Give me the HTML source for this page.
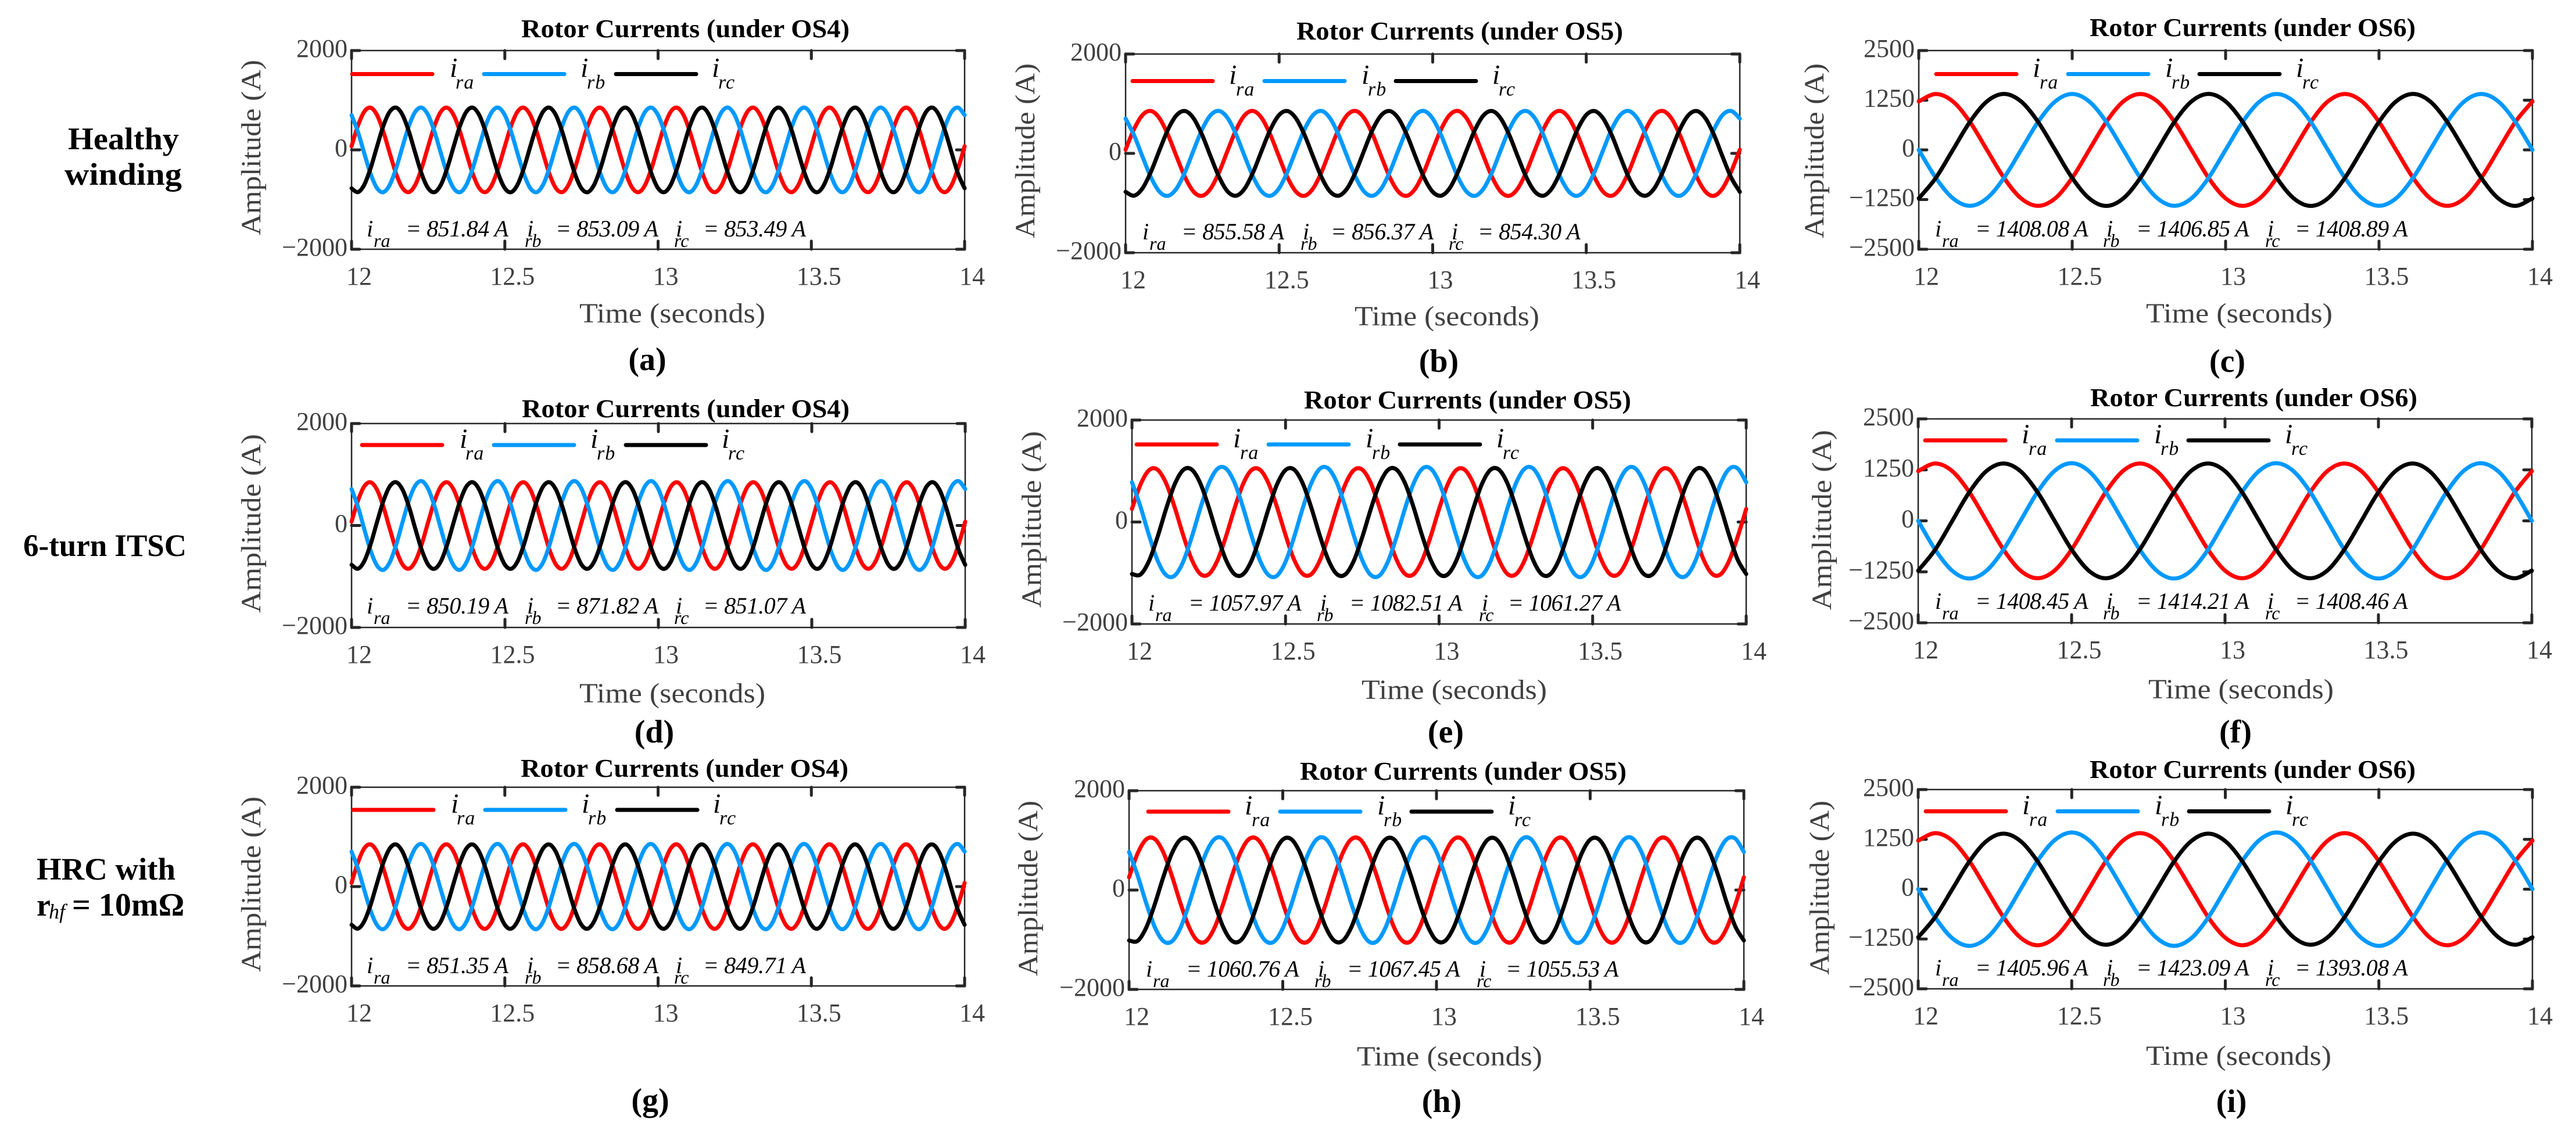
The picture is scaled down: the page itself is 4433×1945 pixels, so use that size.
<!DOCTYPE html>
<html lang="en">
<head>
<meta charset="utf-8">
<title>Rotor Currents under OS4, OS5 and OS6</title>
<style>
html,body{margin:0;padding:0;background:#fff;}
svg{display:block;}
text{font-family:"Liberation Serif",serif;white-space:pre;}
.title{font-size:44px;font-weight:bold;fill:#000;}
.xlab{font-size:48px;fill:#404040;}
.ylab{font-size:48px;fill:#404040;}
.cap{font-size:56px;font-weight:bold;fill:#000;text-anchor:middle;}
.row{font-size:54px;font-weight:bold;fill:#000;}
.tick{font-size:44px;fill:#404040;}
.frame{fill:none;stroke:#262626;stroke-width:2.5;}
.tm{stroke:#262626;stroke-width:5;stroke-linecap:round;}
.lk{stroke-width:7;stroke-linecap:round;}
.curve{fill:none;stroke-width:7;stroke-linecap:round;stroke-linejoin:round;}
.li{font-size:48px;font-style:italic;fill:#000;}
.ls{font-size:34px;font-style:italic;letter-spacing:1px;}
.an{font-size:40px;font-style:italic;fill:#000;}
.as{font-size:32px;}
.eqn{font-size:40px;letter-spacing:-0.4px;}
.eqw{font-size:40px;letter-spacing:-0.6px;}
</style>
</head>
<body>
<svg xmlns="http://www.w3.org/2000/svg" width="4433" height="1945" viewBox="0 0 4433 1945">
<rect width="4433" height="1945" fill="#fff"/>

<text class="row" x="117" y="257" textLength="191" lengthAdjust="spacingAndGlyphs">Healthy</text>
<text class="row" x="111" y="318" textLength="202" lengthAdjust="spacingAndGlyphs">winding</text>
<text class="row" x="40" y="957" textLength="281" lengthAdjust="spacingAndGlyphs">6-turn ITSC</text>
<text class="row" x="63" y="1514" textLength="239" lengthAdjust="spacingAndGlyphs">HRC with</text>
<text class="row" x="63" y="1576">r<tspan x="84" y="1581" font-size="36" font-style="italic" font-weight="normal">hf</tspan><tspan x="124" y="1576" font-size="56">= 10mΩ</tspan></text>

<g>
<g id="plot-a"></g>
<text class="title" x="897" y="64" textLength="565" lengthAdjust="spacingAndGlyphs">Rotor Currents (under OS4)</text>
<text class="xlab" x="997" y="555" textLength="320" lengthAdjust="spacingAndGlyphs">Time (seconds)</text>
<text class="ylab" transform="translate(448,405) rotate(-90)" textLength="302" lengthAdjust="spacingAndGlyphs">Amplitude (A)</text>
<text class="cap" x="1114" y="637">(a)</text>
<g transform="translate(606,127.5)">
<line class="lk" x1="0" x2="138" stroke="#ff0000"/>
<line class="lk" x1="227" x2="365" stroke="#0099ff"/>
<line class="lk" x1="454" x2="592" stroke="#000"/>
<text class="li" x="168" y="5">i<tspan class="ls" x="178" y="25">ra</tspan></text>
<text class="li" x="393" y="5">i<tspan class="ls" x="404" y="25">rb</tspan></text>
<text class="li" x="619" y="5">i<tspan class="ls" x="630" y="25">rc</tspan></text>
</g>
<g transform="translate(637,407)">
<text class="an" x="-6">i<tspan class="as" x="6" y="18">ra</tspan><tspan class="eqn" x="61" y="0">= 851.84 A</tspan></text>
<text class="an" x="270">i<tspan class="as" x="266" y="18">rb</tspan><tspan class="eqn" x="319" y="0">= 853.09 A</tspan></text>
<text class="an" x="526">i<tspan class="as" x="523" y="18">rc</tspan><tspan class="eqn" x="573" y="0">= 853.49 A</tspan></text>
</g>
</g>

<g>
<g id="plot-b"></g>
<text class="title" x="2231" y="68" textLength="562" lengthAdjust="spacingAndGlyphs">Rotor Currents (under OS5)</text>
<text class="xlab" x="2331" y="560" textLength="318" lengthAdjust="spacingAndGlyphs">Time (seconds)</text>
<text class="ylab" transform="translate(1780,410) rotate(-90)" textLength="301" lengthAdjust="spacingAndGlyphs">Amplitude (A)</text>
<text class="cap" x="2476" y="640">(b)</text>
<g transform="translate(1949,139.5)">
<line class="lk" x1="0" x2="138" stroke="#ff0000"/>
<line class="lk" x1="227" x2="365" stroke="#0099ff"/>
<line class="lk" x1="453" x2="591" stroke="#000"/>
<text class="li" x="166" y="5">i<tspan class="ls" x="178" y="25">ra</tspan></text>
<text class="li" x="394" y="5">i<tspan class="ls" x="405" y="25">rb</tspan></text>
<text class="li" x="619" y="5">i<tspan class="ls" x="630" y="25">rc</tspan></text>
</g>
<g transform="translate(1972,412)">
<text class="an" x="-6">i<tspan class="as" x="6" y="18">ra</tspan><tspan class="eqn" x="61" y="0">= 855.58 A</tspan></text>
<text class="an" x="270">i<tspan class="as" x="266" y="18">rb</tspan><tspan class="eqn" x="318" y="0">= 856.37 A</tspan></text>
<text class="an" x="526">i<tspan class="as" x="521" y="18">rc</tspan><tspan class="eqn" x="571" y="0">= 854.30 A</tspan></text>
</g>
</g>

<g>
<g id="plot-c"></g>
<text class="title" x="3596" y="62" textLength="561" lengthAdjust="spacingAndGlyphs">Rotor Currents (under OS6)</text>
<text class="xlab" x="3693" y="555" textLength="321" lengthAdjust="spacingAndGlyphs">Time (seconds)</text>
<text class="ylab" transform="translate(3138,410) rotate(-90)" textLength="301" lengthAdjust="spacingAndGlyphs">Amplitude (A)</text>
<text class="cap" x="3833" y="640">(c)</text>
<g transform="translate(3332,127.5)">
<line class="lk" x1="0" x2="138" stroke="#ff0000"/>
<line class="lk" x1="227" x2="365" stroke="#0099ff"/>
<line class="lk" x1="453" x2="591" stroke="#000"/>
<text class="li" x="166" y="5">i<tspan class="ls" x="178" y="25">ra</tspan></text>
<text class="li" x="394" y="5">i<tspan class="ls" x="405" y="25">rb</tspan></text>
<text class="li" x="619" y="5">i<tspan class="ls" x="630" y="25">rc</tspan></text>
</g>
<g transform="translate(3336,407)">
<text class="an" x="-6">i<tspan class="as" x="6" y="18">ra</tspan><tspan class="eqw" x="63" y="0">= 1408.08 A</tspan></text>
<text class="an" x="289">i<tspan class="as" x="283" y="18">rb</tspan><tspan class="eqw" x="340" y="0">= 1406.85 A</tspan></text>
<text class="an" x="566">i<tspan class="as" x="562" y="18">rc</tspan><tspan class="eqw" x="613" y="0">= 1408.89 A</tspan></text>
</g>
</g>

<g>
<g id="plot-d"></g>
<text class="title" x="898" y="718" textLength="564" lengthAdjust="spacingAndGlyphs">Rotor Currents (under OS4)</text>
<text class="xlab" x="997" y="1209" textLength="320" lengthAdjust="spacingAndGlyphs">Time (seconds)</text>
<text class="ylab" transform="translate(448,1055) rotate(-90)" textLength="308" lengthAdjust="spacingAndGlyphs">Amplitude (A)</text>
<text class="cap" x="1126" y="1278">(d)</text>
<g transform="translate(623,766)">
<line class="lk" x1="0" x2="138" stroke="#ff0000"/>
<line class="lk" x1="227" x2="365" stroke="#0099ff"/>
<line class="lk" x1="454" x2="592" stroke="#000"/>
<text class="li" x="168" y="5">i<tspan class="ls" x="178" y="25">ra</tspan></text>
<text class="li" x="393" y="5">i<tspan class="ls" x="404" y="25">rb</tspan></text>
<text class="li" x="619" y="5">i<tspan class="ls" x="630" y="25">rc</tspan></text>
</g>
<g transform="translate(637,1056)">
<text class="an" x="-6">i<tspan class="as" x="6" y="18">ra</tspan><tspan class="eqn" x="61" y="0">= 850.19 A</tspan></text>
<text class="an" x="270">i<tspan class="as" x="266" y="18">rb</tspan><tspan class="eqn" x="319" y="0">= 871.82 A</tspan></text>
<text class="an" x="526">i<tspan class="as" x="523" y="18">rc</tspan><tspan class="eqn" x="573" y="0">= 851.07 A</tspan></text>
</g>
</g>

<g>
<g id="plot-e"></g>
<text class="title" x="2244" y="703" textLength="563" lengthAdjust="spacingAndGlyphs">Rotor Currents (under OS5)</text>
<text class="xlab" x="2343" y="1203" textLength="319" lengthAdjust="spacingAndGlyphs">Time (seconds)</text>
<text class="ylab" transform="translate(1791,1046) rotate(-90)" textLength="304" lengthAdjust="spacingAndGlyphs">Amplitude (A)</text>
<text class="cap" x="2488" y="1278">(e)</text>
<g transform="translate(1956,765)">
<line class="lk" x1="0" x2="138" stroke="#ff0000"/>
<line class="lk" x1="227" x2="365" stroke="#0099ff"/>
<line class="lk" x1="453" x2="591" stroke="#000"/>
<text class="li" x="166" y="5">i<tspan class="ls" x="178" y="25">ra</tspan></text>
<text class="li" x="394" y="5">i<tspan class="ls" x="405" y="25">rb</tspan></text>
<text class="li" x="619" y="5">i<tspan class="ls" x="630" y="25">rc</tspan></text>
</g>
<g transform="translate(1982,1051)">
<text class="an" x="-6">i<tspan class="as" x="6" y="18">ra</tspan><tspan class="eqw" x="63" y="0">= 1057.97 A</tspan></text>
<text class="an" x="290">i<tspan class="as" x="284" y="18">rb</tspan><tspan class="eqw" x="340" y="0">= 1082.51 A</tspan></text>
<text class="an" x="568">i<tspan class="as" x="563" y="18">rc</tspan><tspan class="eqw" x="613" y="0">= 1061.27 A</tspan></text>
</g>
</g>

<g>
<g id="plot-f"></g>
<text class="title" x="3597" y="699" textLength="563" lengthAdjust="spacingAndGlyphs">Rotor Currents (under OS6)</text>
<text class="xlab" x="3697" y="1202" textLength="319" lengthAdjust="spacingAndGlyphs">Time (seconds)</text>
<text class="ylab" transform="translate(3151,1050) rotate(-90)" textLength="310" lengthAdjust="spacingAndGlyphs">Amplitude (A)</text>
<text class="cap" x="3847" y="1278">(f)</text>
<g transform="translate(3313,758)">
<line class="lk" x1="0" x2="138" stroke="#ff0000"/>
<line class="lk" x1="227" x2="365" stroke="#0099ff"/>
<line class="lk" x1="453" x2="591" stroke="#000"/>
<text class="li" x="166" y="5">i<tspan class="ls" x="178" y="25">ra</tspan></text>
<text class="li" x="394" y="5">i<tspan class="ls" x="405" y="25">rb</tspan></text>
<text class="li" x="619" y="5">i<tspan class="ls" x="630" y="25">rc</tspan></text>
</g>
<g transform="translate(3336,1048)">
<text class="an" x="-6">i<tspan class="as" x="6" y="18">ra</tspan><tspan class="eqw" x="63" y="0">= 1408.45 A</tspan></text>
<text class="an" x="289">i<tspan class="as" x="283" y="18">rb</tspan><tspan class="eqw" x="340" y="0">= 1414.21 A</tspan></text>
<text class="an" x="566">i<tspan class="as" x="562" y="18">rc</tspan><tspan class="eqw" x="613" y="0">= 1408.46 A</tspan></text>
</g>
</g>

<g>
<g id="plot-g"></g>
<text class="title" x="896" y="1337" textLength="564" lengthAdjust="spacingAndGlyphs">Rotor Currents (under OS4)</text>
<text class="ylab" transform="translate(448,1673) rotate(-90)" textLength="302" lengthAdjust="spacingAndGlyphs">Amplitude (A)</text>
<text class="cap" x="1119" y="1912">(g)</text>
<g transform="translate(608,1394)">
<line class="lk" x1="0" x2="138" stroke="#ff0000"/>
<line class="lk" x1="227" x2="365" stroke="#0099ff"/>
<line class="lk" x1="454" x2="592" stroke="#000"/>
<text class="li" x="168" y="5">i<tspan class="ls" x="178" y="25">ra</tspan></text>
<text class="li" x="393" y="5">i<tspan class="ls" x="404" y="25">rb</tspan></text>
<text class="li" x="619" y="5">i<tspan class="ls" x="630" y="25">rc</tspan></text>
</g>
<g transform="translate(637,1675)">
<text class="an" x="-6">i<tspan class="as" x="6" y="18">ra</tspan><tspan class="eqn" x="61" y="0">= 851.35 A</tspan></text>
<text class="an" x="270">i<tspan class="as" x="266" y="18">rb</tspan><tspan class="eqn" x="319" y="0">= 858.68 A</tspan></text>
<text class="an" x="526">i<tspan class="as" x="523" y="18">rc</tspan><tspan class="eqn" x="573" y="0">= 849.71 A</tspan></text>
</g>
</g>

<g>
<g id="plot-h"></g>
<text class="title" x="2237" y="1342" textLength="562" lengthAdjust="spacingAndGlyphs">Rotor Currents (under OS5)</text>
<text class="xlab" x="2335" y="1834" textLength="319" lengthAdjust="spacingAndGlyphs">Time (seconds)</text>
<text class="ylab" transform="translate(1785,1680) rotate(-90)" textLength="302" lengthAdjust="spacingAndGlyphs">Amplitude (A)</text>
<text class="cap" x="2481" y="1914">(h)</text>
<g transform="translate(1976,1397)">
<line class="lk" x1="0" x2="138" stroke="#ff0000"/>
<line class="lk" x1="227" x2="365" stroke="#0099ff"/>
<line class="lk" x1="453" x2="591" stroke="#000"/>
<text class="li" x="166" y="5">i<tspan class="ls" x="178" y="25">ra</tspan></text>
<text class="li" x="394" y="5">i<tspan class="ls" x="405" y="25">rb</tspan></text>
<text class="li" x="619" y="5">i<tspan class="ls" x="630" y="25">rc</tspan></text>
</g>
<g transform="translate(1978,1681)">
<text class="an" x="-6">i<tspan class="as" x="6" y="18">ra</tspan><tspan class="eqw" x="63" y="0">= 1060.76 A</tspan></text>
<text class="an" x="290">i<tspan class="as" x="284" y="18">rb</tspan><tspan class="eqw" x="340" y="0">= 1067.45 A</tspan></text>
<text class="an" x="568">i<tspan class="as" x="563" y="18">rc</tspan><tspan class="eqw" x="613" y="0">= 1055.53 A</tspan></text>
</g>
</g>

<g>
<g id="plot-i"></g>
<text class="title" x="3596" y="1339" textLength="561" lengthAdjust="spacingAndGlyphs">Rotor Currents (under OS6)</text>
<text class="xlab" x="3693" y="1833" textLength="319" lengthAdjust="spacingAndGlyphs">Time (seconds)</text>
<text class="ylab" transform="translate(3147,1678) rotate(-90)" textLength="300" lengthAdjust="spacingAndGlyphs">Amplitude (A)</text>
<text class="cap" x="3840" y="1914">(i)</text>
<g transform="translate(3314,1396.5)">
<line class="lk" x1="0" x2="138" stroke="#ff0000"/>
<line class="lk" x1="227" x2="365" stroke="#0099ff"/>
<line class="lk" x1="453" x2="591" stroke="#000"/>
<text class="li" x="166" y="5">i<tspan class="ls" x="178" y="25">ra</tspan></text>
<text class="li" x="394" y="5">i<tspan class="ls" x="405" y="25">rb</tspan></text>
<text class="li" x="619" y="5">i<tspan class="ls" x="630" y="25">rc</tspan></text>
</g>
<g transform="translate(3336,1679)">
<text class="an" x="-6">i<tspan class="as" x="6" y="18">ra</tspan><tspan class="eqw" x="63" y="0">= 1405.96 A</tspan></text>
<text class="an" x="289">i<tspan class="as" x="283" y="18">rb</tspan><tspan class="eqw" x="340" y="0">= 1423.09 A</tspan></text>
<text class="an" x="566">i<tspan class="as" x="562" y="18">rc</tspan><tspan class="eqw" x="613" y="0">= 1393.08 A</tspan></text>
</g>
</g>
</svg>

<script>
// Axis data
const timeDomain = [12, 14];
const timeTicks = [12, 12.5, 13, 13.5, 14];
const timeTickLabels = ['12', '12.5', '13', '13.5', '14'];
const ampTicksLow = [-2000, 0, 2000];
const ampTickLabelsLow = ['\u22122000', '0', '2000'];
const ampTicksHigh = [-2500, -1250, 0, 1250, 2500];
const ampTickLabelsHigh = ['\u22122500', '\u22121250', '0', '1250', '2500'];

// Series values (amperes), evenly sampled across timeDomain
const aIra = [74,489,772,849,698,360,-74,-489,-772,-849,-698,-360,74,489,772,849,698,360,-74,-489,-772,-849,-698,-360,74,489,772,849,698,360,-74,-489,-772,-849,-698,-360,74,489,772,849,698,360,-74,-489,-772,-849,-698,-360,74,489,772,849,698,360,-74,-489,-772,-849,-698,-360,74,489,772,849,698,360,-74,-489,-772,-849,-698,-360,74,489,772,849,698,360,-74,-489,-772,-849,-698,-360,74,489,772,849,698,360,-74,-489,-772,-849,-698,-360,74];
const aIrb = [699,361,-74,-490,-773,-850,-699,-361,74,490,773,850,699,361,-74,-490,-773,-850,-699,-361,74,490,773,850,699,361,-74,-490,-773,-850,-699,-361,74,490,773,850,699,361,-74,-490,-773,-850,-699,-361,74,490,773,850,699,361,-74,-490,-773,-850,-699,-361,74,490,773,850,699,361,-74,-490,-773,-850,-699,-361,74,490,773,850,699,361,-74,-490,-773,-850,-699,-361,74,490,773,850,699,361,-74,-490,-773,-850,-699,-361,74,490,773,850,699];
const aIrc = [-773,-850,-699,-361,74,490,773,850,699,361,-74,-490,-773,-850,-699,-361,74,490,773,850,699,361,-74,-490,-773,-850,-699,-361,74,490,773,850,699,361,-74,-490,-773,-850,-699,-361,74,490,773,850,699,361,-74,-490,-773,-850,-699,-361,74,490,773,850,699,361,-74,-490,-773,-850,-699,-361,74,490,773,850,699,361,-74,-490,-773,-850,-699,-361,74,490,773,850,699,361,-74,-490,-773,-850,-699,-361,74,490,773,850,699,361,-74,-490,-773];

const bIra = [74,491,776,853,701,362,-74,-491,-776,-853,-701,-362,74,491,776,853,701,362,-74,-491,-776,-853,-701,-362,74,491,776,853,701,362,-74,-491,-776,-853,-701,-362,74,491,776,853,701,362,-74,-491,-776,-853,-701,-362,74,491,776,853,701,362,-74,-491,-776,-853,-701,-362,74,491,776,853,701,362,-74,-491,-776,-853,-701,-362,74];
const bIrb = [701,362,-74,-491,-776,-853,-701,-362,74,491,776,853,701,362,-74,-491,-776,-853,-701,-362,74,491,776,853,701,362,-74,-491,-776,-853,-701,-362,74,491,776,853,701,362,-74,-491,-776,-853,-701,-362,74,491,776,853,701,362,-74,-491,-776,-853,-701,-362,74,491,776,853,701,362,-74,-491,-776,-853,-701,-362,74,491,776,853,701];
const bIrc = [-774,-851,-699,-361,74,490,774,851,699,361,-74,-490,-774,-851,-699,-361,74,490,774,851,699,361,-74,-490,-774,-851,-699,-361,74,490,774,851,699,361,-74,-490,-774,-851,-699,-361,74,490,774,851,699,361,-74,-490,-774,-851,-699,-361,74,490,774,851,699,361,-74,-490,-774,-851,-699,-361,74,490,774,851,699,361,-74,-490,-774];

const cIra = [1219,1408,1219,704,0,-704,-1219,-1408,-1219,-704,0,704,1219,1408,1219,704,0,-704,-1219,-1408,-1219,-704,0,704,1219,1408,1219,704,0,-704,-1219,-1408,-1219,-704,0,704,1219];
const cIrb = [0,-703,-1218,-1407,-1218,-703,0,703,1218,1407,1218,703,0,-703,-1218,-1407,-1218,-703,0,703,1218,1407,1218,703,0,-703,-1218,-1407,-1218,-703,0,703,1218,1407,1218,703,0];
const cIrc = [-1220,-705,0,705,1220,1409,1220,705,0,-705,-1220,-1409,-1220,-705,0,705,1220,1409,1220,705,0,-705,-1220,-1409,-1220,-705,0,705,1220,1409,1220,705,0,-705,-1220,-1409,-1220];

const dIra = [74,488,770,847,696,360,-74,-488,-770,-847,-696,-360,74,488,770,847,696,360,-74,-488,-770,-847,-696,-360,74,488,770,847,696,360,-74,-488,-770,-847,-696,-360,74,488,770,847,696,360,-74,-488,-770,-847,-696,-360,74,488,770,847,696,360,-74,-488,-770,-847,-696,-360,74,488,770,847,696,360,-74,-488,-770,-847,-696,-360,74,488,770,847,696,360,-74,-488,-770,-847,-696,-360,74,488,770,847,696,360,-74,-488,-770,-847,-696,-360,74];
const dIrb = [714,369,-76,-501,-790,-869,-714,-369,76,501,790,869,714,369,-76,-501,-790,-869,-714,-369,76,501,790,869,714,369,-76,-501,-790,-869,-714,-369,76,501,790,869,714,369,-76,-501,-790,-869,-714,-369,76,501,790,869,714,369,-76,-501,-790,-869,-714,-369,76,501,790,869,714,369,-76,-501,-790,-869,-714,-369,76,501,790,869,714,369,-76,-501,-790,-869,-714,-369,76,501,790,869,714,369,-76,-501,-790,-869,-714,-369,76,501,790,869,714];
const dIrc = [-771,-848,-697,-360,74,488,771,848,697,360,-74,-488,-771,-848,-697,-360,74,488,771,848,697,360,-74,-488,-771,-848,-697,-360,74,488,771,848,697,360,-74,-488,-771,-848,-697,-360,74,488,771,848,697,360,-74,-488,-771,-848,-697,-360,74,488,771,848,697,360,-74,-488,-771,-848,-697,-360,74,488,771,848,697,360,-74,-488,-771,-848,-697,-360,74,488,771,848,697,360,-74,-488,-771,-848,-697,-360,74,488,771,848,697,360,-74,-488,-771];

const eIra = [256,735,1017,1026,761,292,-256,-735,-1017,-1026,-761,-292,256,735,1017,1026,761,292,-256,-735,-1017,-1026,-761,-292,256,735,1017,1026,761,292,-256,-735,-1017,-1026,-761,-292,256,735,1017,1026,761,292,-256,-735,-1017,-1026,-761,-292,256,735,1017,1026,761,292,-256,-735,-1017,-1026,-761,-292,256,735,1017,1026,761,292,-256,-735,-1017,-1026,-761,-292,256];
const eIrb = [779,299,-262,-753,-1041,-1051,-779,-299,262,753,1041,1051,779,299,-262,-753,-1041,-1051,-779,-299,262,753,1041,1051,779,299,-262,-753,-1041,-1051,-779,-299,262,753,1041,1051,779,299,-262,-753,-1041,-1051,-779,-299,262,753,1041,1051,779,299,-262,-753,-1041,-1051,-779,-299,262,753,1041,1051,779,299,-262,-753,-1041,-1051,-779,-299,262,753,1041,1051,779];
const eIrc = [-1020,-1029,-763,-293,257,737,1020,1029,763,293,-257,-737,-1020,-1029,-763,-293,257,737,1020,1029,763,293,-257,-737,-1020,-1029,-763,-293,257,737,1020,1029,763,293,-257,-737,-1020,-1029,-763,-293,257,737,1020,1029,763,293,-257,-737,-1020,-1029,-763,-293,257,737,1020,1029,763,293,-257,-737,-1020,-1029,-763,-293,257,737,1020,1029,763,293,-257,-737,-1020];

const fIra = [1219,1408,1219,704,0,-704,-1219,-1408,-1219,-704,0,704,1219,1408,1219,704,0,-704,-1219,-1408,-1219,-704,0,704,1219,1408,1219,704,0,-704,-1219,-1408,-1219,-704,0,704,1219];
const fIrb = [0,-707,-1225,-1414,-1225,-707,0,707,1225,1414,1225,707,0,-707,-1225,-1414,-1225,-707,0,707,1225,1414,1225,707,0,-707,-1225,-1414,-1225,-707,0,707,1225,1414,1225,707,0];
const fIrc = [-1219,-704,0,704,1219,1408,1219,704,0,-704,-1219,-1408,-1219,-704,0,704,1219,1408,1219,704,0,-704,-1219,-1408,-1219,-704,0,704,1219,1408,1219,704,0,-704,-1219,-1408,-1219];

const gIra = [74,488,771,848,697,360,-74,-488,-771,-848,-697,-360,74,488,771,848,697,360,-74,-488,-771,-848,-697,-360,74,488,771,848,697,360,-74,-488,-771,-848,-697,-360,74,488,771,848,697,360,-74,-488,-771,-848,-697,-360,74,488,771,848,697,360,-74,-488,-771,-848,-697,-360,74,488,771,848,697,360,-74,-488,-771,-848,-697,-360,74,488,771,848,697,360,-74,-488,-771,-848,-697,-360,74,488,771,848,697,360,-74,-488,-771,-848,-697,-360,74];
const gIrb = [704,363,-75,-493,-778,-856,-704,-363,75,493,778,856,704,363,-75,-493,-778,-856,-704,-363,75,493,778,856,704,363,-75,-493,-778,-856,-704,-363,75,493,778,856,704,363,-75,-493,-778,-856,-704,-363,75,493,778,856,704,363,-75,-493,-778,-856,-704,-363,75,493,778,856,704,363,-75,-493,-778,-856,-704,-363,75,493,778,856,704,363,-75,-493,-778,-856,-704,-363,75,493,778,856,704,363,-75,-493,-778,-856,-704,-363,75,493,778,856,704];
const gIrc = [-770,-847,-696,-360,74,488,770,847,696,360,-74,-488,-770,-847,-696,-360,74,488,770,847,696,360,-74,-488,-770,-847,-696,-360,74,488,770,847,696,360,-74,-488,-770,-847,-696,-360,74,488,770,847,696,360,-74,-488,-770,-847,-696,-360,74,488,770,847,696,360,-74,-488,-770,-847,-696,-360,74,488,770,847,696,360,-74,-488,-770,-847,-696,-360,74,488,770,847,696,360,-74,-488,-770,-847,-696,-360,74,488,770,847,696,360,-74,-488,-770];

const hIra = [257,737,1020,1029,763,293,-257,-737,-1020,-1029,-763,-293,257,737,1020,1029,763,293,-257,-737,-1020,-1029,-763,-293,257,737,1020,1029,763,293,-257,-737,-1020,-1029,-763,-293,257,737,1020,1029,763,293,-257,-737,-1020,-1029,-763,-293,257,737,1020,1029,763,293,-257,-737,-1020,-1029,-763,-293,257,737,1020,1029,763,293,-257,-737,-1020,-1029,-763,-293,257];
const hIrb = [767,294,-258,-742,-1025,-1035,-767,-294,258,742,1025,1035,767,294,-258,-742,-1025,-1035,-767,-294,258,742,1025,1035,767,294,-258,-742,-1025,-1035,-767,-294,258,742,1025,1035,767,294,-258,-742,-1025,-1035,-767,-294,258,742,1025,1035,767,294,-258,-742,-1025,-1035,-767,-294,258,742,1025,1035,767,294,-258,-742,-1025,-1035,-767,-294,258,742,1025,1035,767];
const hIrc = [-1015,-1024,-759,-291,256,734,1015,1024,759,291,-256,-734,-1015,-1024,-759,-291,256,734,1015,1024,759,291,-256,-734,-1015,-1024,-759,-291,256,734,1015,1024,759,291,-256,-734,-1015,-1024,-759,-291,256,734,1015,1024,759,291,-256,-734,-1015,-1024,-759,-291,256,734,1015,1024,759,291,-256,-734,-1015,-1024,-759,-291,256,734,1015,1024,759,291,-256,-734,-1015];

const iIra = [1218,1406,1218,703,0,-703,-1218,-1406,-1218,-703,0,703,1218,1406,1218,703,0,-703,-1218,-1406,-1218,-703,0,703,1218,1406,1218,703,0,-703,-1218,-1406,-1218,-703,0,703,1218];
const iIrb = [0,-712,-1232,-1423,-1232,-712,0,712,1232,1423,1232,712,0,-712,-1232,-1423,-1232,-712,0,712,1232,1423,1232,712,0,-712,-1232,-1423,-1232,-712,0,712,1232,1423,1232,712,0];
const iIrc = [-1206,-697,0,697,1206,1393,1206,697,0,-697,-1206,-1393,-1206,-697,0,697,1206,1393,1206,697,0,-697,-1206,-1393,-1206,-697,0,697,1206,1393,1206,697,0,-697,-1206,-1393,-1206];

// Panel layout (pixels) kept apart from the data
const panels = [
  {id:'plot-a', left:605,  right:1660, top:87,   bottom:429,  yMax:2000, yTicks:ampTicksLow,  yLabels:ampTickLabelsLow,  ira:aIra, irb:aIrb, irc:aIrc},
  {id:'plot-b', left:1937, right:2994, top:93,   bottom:435,  yMax:2000, yTicks:ampTicksLow,  yLabels:ampTickLabelsLow,  ira:bIra, irb:bIrb, irc:bIrc},
  {id:'plot-c', left:3302, right:4358, top:87,   bottom:429,  yMax:2500, yTicks:ampTicksHigh, yLabels:ampTickLabelsHigh, ira:cIra, irb:cIrb, irc:cIrc},
  {id:'plot-d', left:605,  right:1661, top:729,  bottom:1080, yMax:2000, yTicks:ampTicksLow,  yLabels:ampTickLabelsLow,  ira:dIra, irb:dIrb, irc:dIrc},
  {id:'plot-e', left:1948, right:3005, top:723,  bottom:1074, yMax:2000, yTicks:ampTicksLow,  yLabels:ampTickLabelsLow,  ira:eIra, irb:eIrb, irc:eIrc},
  {id:'plot-f', left:3301, right:4357, top:721,  bottom:1072, yMax:2500, yTicks:ampTicksHigh, yLabels:ampTickLabelsHigh, ira:fIra, irb:fIrb, irc:fIrc},
  {id:'plot-g', left:605,  right:1660, top:1355, bottom:1697, yMax:2000, yTicks:ampTicksLow,  yLabels:ampTickLabelsLow,  ira:gIra, irb:gIrb, irc:gIrc},
  {id:'plot-h', left:1943, right:3001, top:1361, bottom:1703, yMax:2000, yTicks:ampTicksLow,  yLabels:ampTickLabelsLow,  ira:hIra, irb:hIrb, irc:hIrc},
  {id:'plot-i', left:3301, right:4358, top:1359, bottom:1702, yMax:2500, yTicks:ampTicksHigh, yLabels:ampTickLabelsHigh, ira:iIra, irb:iIrb, irc:iIrc}
];

const SVG_NS = 'http://www.w3.org/2000/svg';
const TICK_LEN = 14;

function xAxis(p, t) {
  return p.left + (t - timeDomain[0]) / (timeDomain[1] - timeDomain[0]) * (p.right - p.left);
}
function yAxis(p, v) {
  return p.bottom - (v + p.yMax) / (2 * p.yMax) * (p.bottom - p.top);
}
function curvePath(p, values) {
  const pts = values.map(function (v, i) {
    const t = timeDomain[0] + i / (values.length - 1) * (timeDomain[1] - timeDomain[0]);
    return [xAxis(p, t), yAxis(p, v)];
  });
  let d = 'M' + pts[0][0].toFixed(1) + ' ' + pts[0][1].toFixed(1);
  for (let i = 0; i < pts.length - 1; i++) {
    const a = pts[Math.max(i - 1, 0)], b = pts[i], c = pts[i + 1], e = pts[Math.min(i + 2, pts.length - 1)];
    const c1x = b[0] + (c[0] - a[0]) / 6, c1y = b[1] + (c[1] - a[1]) / 6;
    const c2x = c[0] - (e[0] - b[0]) / 6, c2y = c[1] - (e[1] - b[1]) / 6;
    d += 'C' + c1x.toFixed(1) + ' ' + c1y.toFixed(1) + ' ' + c2x.toFixed(1) + ' ' + c2y.toFixed(1) + ' ' + c[0].toFixed(1) + ' ' + c[1].toFixed(1);
  }
  return d;
}
function addTickMark(group, x1, y1, x2, y2) {
  const mark = document.createElementNS(SVG_NS, 'line');
  
  
  mark.setAttribute('class', 'tm');
  mark.setAttribute('x1', x1);
  mark.setAttribute('y1', y1);
  mark.setAttribute('x2', x2);
  mark.setAttribute('y2', y2);
  group.appendChild(mark);
}

panels.forEach(function (p) {
  const group = document.getElementById(p.id);

  const frame = document.createElementNS(SVG_NS, 'rect');
  
  
  frame.setAttribute('class', 'frame');
  frame.setAttribute('x', p.left);
  frame.setAttribute('y', p.top);
  frame.setAttribute('width', p.right - p.left);
  frame.setAttribute('height', p.bottom - p.top);
  group.appendChild(frame);

  timeTicks.forEach(function (t, i) {
    const x = xAxis(p, t);
    addTickMark(group, x, p.bottom, x, p.bottom - TICK_LEN);
    addTickMark(group, x, p.top, x, p.top + TICK_LEN);
    const label = document.createElementNS(SVG_NS, 'text');
    
    
    label.setAttribute('class', 'tick');
    label.setAttribute('x', x + 13);
    label.setAttribute('y', p.bottom + 61);
    label.setAttribute('text-anchor', 'middle');
    label.textContent = timeTickLabels[i];
    group.appendChild(label);
  });

  p.yTicks.forEach(function (v, i) {
    const y = yAxis(p, v);
    addTickMark(group, p.left, y, p.left + TICK_LEN, y);
    addTickMark(group, p.right, y, p.right - TICK_LEN, y);
    const label = document.createElementNS(SVG_NS, 'text');
    
    
    label.setAttribute('class', 'tick');
    label.setAttribute('x', p.left - 7);
    label.setAttribute('y', y + 11);
    label.setAttribute('text-anchor', 'end');
    label.textContent = p.yLabels[i];
    group.appendChild(label);
  });

  const red = document.createElementNS(SVG_NS, 'path');
  
  
  red.setAttribute('class', 'curve');
  red.setAttribute('stroke', '#ff0000');
  red.setAttribute('d', curvePath(p, p.ira));
  group.appendChild(red);

  const blue = document.createElementNS(SVG_NS, 'path');
  
  
  blue.setAttribute('class', 'curve');
  blue.setAttribute('stroke', '#0099ff');
  blue.setAttribute('d', curvePath(p, p.irb));
  group.appendChild(blue);

  const black = document.createElementNS(SVG_NS, 'path');
  
  
  black.setAttribute('class', 'curve');
  black.setAttribute('stroke', '#000000');
  black.setAttribute('d', curvePath(p, p.irc));
  group.appendChild(black);
});
</script>
</body>
</html>
